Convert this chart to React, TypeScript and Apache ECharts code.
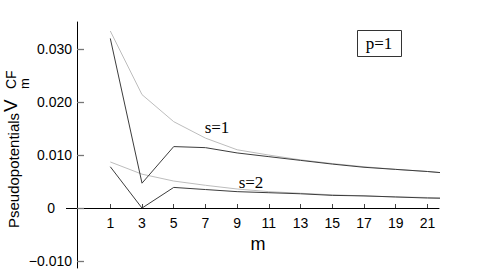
import React, { useEffect, useRef } from "react";
import * as echarts from "echarts";

const mValues = [1, 3, 5, 7, 9, 11, 13, 15, 17, 19, 21, 23];
const s1Light = [0.0334, 0.0214, 0.0163, 0.0132, 0.011, 0.01, 0.0091, 0.0084, 0.0078, 0.0073, 0.0069, 0.0064];
const s1Dark = [0.032, 0.0047, 0.0116, 0.0114, 0.0104, 0.0097, 0.009, 0.0083, 0.0077, 0.0073, 0.0069, 0.0064];
const s2Light = [0.0087, 0.0064, 0.0051, 0.0043, 0.0036, 0.0031, 0.0028, 0.0025, 0.0023, 0.0021, 0.002, 0.0018];
const s2Dark = [0.0078, 0.0, 0.0039, 0.0035, 0.0031, 0.0029, 0.0027, 0.0024, 0.0023, 0.0021, 0.0019, 0.0018];
const xTicks = [1, 3, 5, 7, 9, 11, 13, 15, 17, 19, 21];
const yTicks = [-0.01, 0, 0.01, 0.02, 0.03];

const SANS = "'Liberation Sans', Arial, Helvetica, sans-serif";
const SERIF = "'Liberation Serif', 'Times New Roman', serif";
const DARK = "#3c3c3c";
const LIGHT = "#bdbdbd";

const pairs = (ys: number[]) => mValues.map((m, i) => [m, ys[i]]);

export default function App() {
  const ref = useRef<HTMLDivElement>(null);
  useEffect(() => {
    if (!ref.current) return;
    const chart = echarts.init(ref.current, null, { renderer: "svg" });
    const lineSeries = (name: string, ys: number[], color: string, z: number) => ({
      name,
      type: "line",
      data: pairs(ys),
      showSymbol: false,
      symbol: "none",
      clip: true,
      z,
      lineStyle: { color, width: 1 },
    });
    chart.setOption({
      animation: false,
      backgroundColor: "#ffffff",
      grid: { left: 77, right: 53, top: 22, bottom: 5, containLabel: false, outerBoundsMode: "none" },
      xAxis: {
        type: "value",
        min: -1.1,
        max: 21.73,
        position: "bottom",
        offset: -60,
        name: "m",
        nameLocation: "middle",
        nameGap: 27,
        nameTextStyle: { fontFamily: SANS, fontSize: 18, color: "#000" },
        axisLine: { onZero: false, lineStyle: { color: "#000", width: 1 } },
        axisTick: { show: true, inside: true, length: 4, customValues: xTicks, lineStyle: { color: "#444" } },
        axisLabel: { customValues: xTicks, margin: 8, fontFamily: SANS, fontSize: 14, color: "#000" },
        splitLine: { show: false },
      },
      yAxis: {
        type: "value",
        min: -0.0113,
        max: 0.0351,
        axisLine: { show: true, onZero: false, lineStyle: { color: "#000", width: 1 } },
        axisTick: { show: true, inside: true, length: 7, customValues: yTicks, lineStyle: { color: "#777", width: 1.3 } },
        axisLabel: {
          customValues: yTicks,
          margin: 5,
          fontFamily: SANS,
          fontSize: 14,
          color: "#000",
          formatter: (v: number) =>
            Math.abs(v) < 1e-9 ? "{z|0}" : (v < 0 ? "\u2212" : "") + Math.abs(v).toFixed(3),
          rich: { z: { fontFamily: SANS, fontSize: 14, color: "#000", padding: [0, 17, 0, 0] } },
        },
        splitLine: { show: false },
      },
      series: [
        lineSeries("s=1 light", s1Light, LIGHT, 2),
        lineSeries("s=2 light", s2Light, LIGHT, 2),
        lineSeries("s=1 dark", s1Dark, DARK, 3),
        lineSeries("s=2 dark", s2Dark, DARK, 3),
      ],
      graphic: [
        { type: "line", shape: { x1: 66, y1: 208.5, x2: 77, y2: 208.5 }, style: { stroke: "#000", lineWidth: 1 } },
        {
          type: "text", x: 13, y: 228, rotation: Math.PI / 2,
          style: { text: "Pseudopotentials", fontFamily: SANS, fontSize: 15, fill: "#000", align: "left", verticalAlign: "middle" },
        },
        {
          type: "text", x: 10, y: 112, rotation: Math.PI / 2,
          style: { text: "V", fontFamily: SANS, fontSize: 19, fill: "#000", align: "left", verticalAlign: "middle" },
        },
        {
          type: "text", x: 11, y: 89, rotation: Math.PI / 2,
          style: { text: "CF", fontFamily: SANS, fontSize: 14, fill: "#000", align: "left", verticalAlign: "middle" },
        },
        {
          type: "text", x: 24.5, y: 89, rotation: Math.PI / 2,
          style: { text: "m", fontFamily: SANS, fontSize: 13, fill: "#000", align: "left", verticalAlign: "middle" },
        },
        {
          type: "text", x: 217, y: 127,
          style: { text: "s=1", fontFamily: SERIF, fontSize: 17, fill: "#000", align: "center", verticalAlign: "middle" },
        },
        {
          type: "text", x: 251, y: 182,
          style: { text: "s=2", fontFamily: SERIF, fontSize: 17, fill: "#000", align: "center", verticalAlign: "middle" },
        },
        {
          type: "rect", shape: { x: 357.5, y: 30.5, width: 44, height: 26 },
          style: { fill: "#fff", stroke: "#333", lineWidth: 1 },
        },
        {
          type: "text", x: 379, y: 43,
          style: { text: "p=1", fontFamily: SERIF, fontSize: 17, fill: "#000", align: "center", verticalAlign: "middle" },
        },
      ],
    });
    return () => chart.dispose();
  }, []);
  return <div ref={ref} style={{ position: "fixed", left: 0, top: 0, width: 492, height: 273 }} />;
}
